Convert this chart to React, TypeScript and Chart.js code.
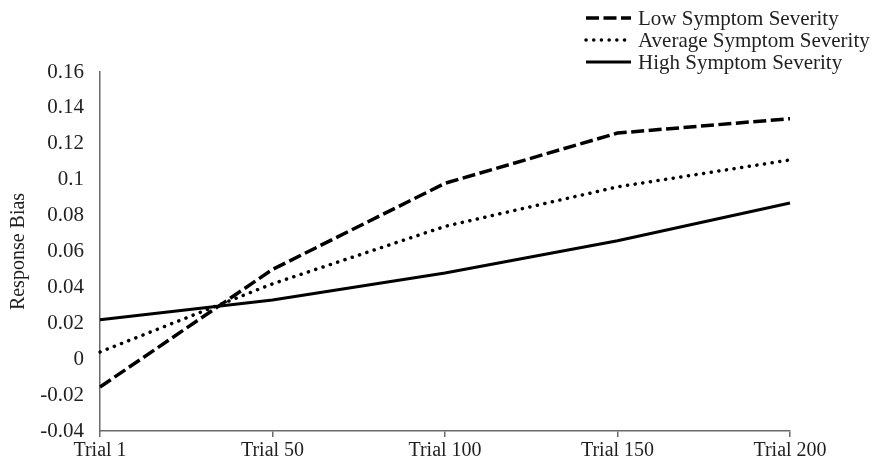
import React, { useEffect, useRef } from "react";
import { Chart, registerables } from "chart.js";

Chart.register(...registerables);

const categories = ["Trial 1", "Trial 50", "Trial 100", "Trial 150", "Trial 200"];
const lowSeverity = [-0.0155, 0.05, 0.098, 0.126, 0.134];
const averageSeverity = [0.004, 0.042, 0.074, 0.096, 0.111];
const highSeverity = [0.022, 0.033, 0.048, 0.066, 0.087];
const seriesLabels = ["Low Symptom Severity", "Average Symptom Severity", "High Symptom Severity"];
const yTitle = "Response Bias";

const FONT = '"Liberation Serif", "Times New Roman", serif';
const TEXT = "#1f1f1f";
const AXIS = "#6a6a6a";

const legendPlugin = {
  id: "stackedLegend",
  afterDraw(chart: any) {
    const ctx = chart.ctx as CanvasRenderingContext2D;
    ctx.save();
    chart.data.datasets.forEach((ds: any, i: number) => {
      const y = 18 + i * 22;
      ctx.beginPath();
      ctx.setLineDash(ds.borderDash || []);
      ctx.lineCap = ds.borderCapStyle || "butt";
      ctx.lineWidth = ds.borderWidth;
      ctx.strokeStyle = ds.borderColor;
      ctx.moveTo(586, y);
      ctx.lineTo(631, y);
      ctx.stroke();
      ctx.setLineDash([]);
      ctx.fillStyle = TEXT;
      ctx.font = `21px ${FONT}`;
      ctx.textBaseline = "middle";
      ctx.textAlign = "left";
      ctx.fillText(ds.label, 638, y + 1);
    });
    ctx.restore();
  },
};

export default function App() {
  const ref = useRef<HTMLCanvasElement | null>(null);

  useEffect(() => {
    document.body.style.margin = "0";
    if (!ref.current) return;
    const chart = new Chart(ref.current, {
      type: "line",
      data: {
        labels: categories,
        datasets: [
          {
            label: seriesLabels[0],
            data: lowSeverity,
            borderColor: "#000",
            borderWidth: 3.5,
            borderDash: [13, 4.5],
            borderCapStyle: "butt",
            pointRadius: 0,
            tension: 0,
            fill: false,
          },
          {
            label: seriesLabels[1],
            data: averageSeverity,
            borderColor: "#000",
            borderWidth: 3.5,
            borderDash: [0.1, 7.6],
            borderCapStyle: "round",
            pointRadius: 0,
            tension: 0,
            fill: false,
          },
          {
            label: seriesLabels[2],
            data: highSeverity,
            borderColor: "#000",
            borderWidth: 3,
            borderDash: [],
            borderCapStyle: "butt",
            pointRadius: 0,
            tension: 0,
            fill: false,
          },
        ],
      },
      options: {
        responsive: false,
        animation: false,
        layout: { padding: { top: 72, right: 86, bottom: 0, left: 0 } },
        plugins: {
          legend: { display: false },
          tooltip: { enabled: false },
        },
        scales: {
          x: {
            offset: false,
            grid: {
              display: true,
              drawOnChartArea: false,
              drawTicks: true,
              tickLength: 6,
              color: AXIS,
              lineWidth: 1.5,
            },
            border: { display: true, color: AXIS, width: 1.5 },
            ticks: {
              color: TEXT,
              font: { family: FONT, size: 20 },
              padding: 2,
              maxRotation: 0,
              autoSkip: false,
            },
            afterFit: (scale: any) => {
              scale.height = 35;
            },
          },
          y: {
            min: -0.04,
            max: 0.16,
            grid: {
              display: true,
              drawOnChartArea: false,
              drawTicks: false,
            },
            border: { display: true, color: AXIS, width: 1.5 },
            ticks: {
              stepSize: 0.02,
              color: TEXT,
              padding: 16,
              font: { family: FONT, size: 21 },
              callback: (v: any) => String(parseFloat(Number(v).toFixed(2))),
            },
            title: {
              display: true,
              text: yTitle,
              color: TEXT,
              font: { family: FONT, size: 20 },
              padding: { top: 7, bottom: 0 },
            },
            afterFit: (scale: any) => {
              scale.width = 100;
            },
          },
        },
      },
      plugins: [legendPlugin],
    });
    return () => chart.destroy();
  }, []);

  return (
    <div style={{ width: 876, height: 466, background: "#fff" }}>
      <canvas ref={ref} width={876} height={466} style={{ display: "block" }} />
    </div>
  );
}
